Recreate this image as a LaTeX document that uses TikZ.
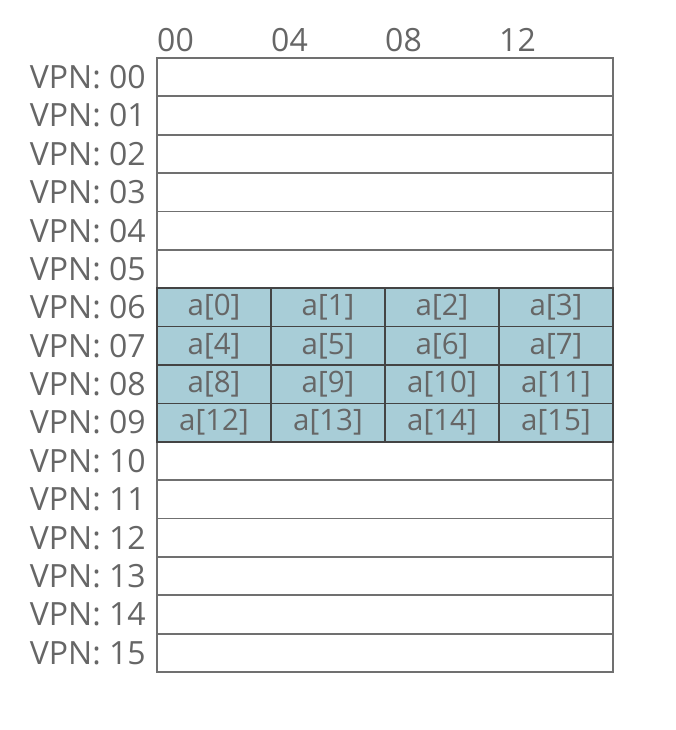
\documentclass[tikz,border=0pt]{standalone}
\usepackage{fontspec}
\setmainfont{Open Sans}
\definecolor{txt}{HTML}{666666}
\definecolor{cellfill}{HTML}{A8CDD7}
\definecolor{gridline}{HTML}{707070}
\definecolor{darkline}{HTML}{444444}
\begin{document}
\begin{tikzpicture}[x=1pt,y=-1pt,
  lbl/.style={font=\fontsize{32}{34}\selectfont, text=txt, inner sep=0pt},
  rowbox/.style={draw=gridline, line width=1.8pt, fill=white, minimum width=456pt, minimum height=38.375pt, inner sep=0pt},
  cellbox/.style={draw=darkline, line width=1.6pt, fill=cellfill, minimum width=114pt, minimum height=38.375pt, inner sep=0pt, font=\fontsize{29.5}{31}\selectfont, text=txt}]
\useasboundingbox (0,0) rectangle (676,730);
% rows
\foreach \i in {0,...,15} {
  \pgfmathsetmacro{\yc}{58+38.375*(\i+0.5)}
  \node[rowbox] (r\i) at (385,\yc) {};
  \node[lbl, anchor=east] (l\i) at (146,\yc) {VPN: \ifnum\i<10 0\fi\i};
}
% header
\foreach \c/\t in {0/00,1/04,2/08,3/12} {
  \node[lbl, anchor=base west] (h\c) at (157+114*\c,52) {\t};
}
% array cells
\foreach \r in {0,...,3} {
  \foreach \c in {0,...,3} {
    \pgfmathtruncatemacro{\k}{4*\r+\c}
    \pgfmathsetmacro{\yc}{58+38.375*(6+\r+0.5)}
    \node[cellbox] (a\k) at (157+114*\c+57,\yc) {a[\k]};
  }
}
\end{tikzpicture}
\end{document}
